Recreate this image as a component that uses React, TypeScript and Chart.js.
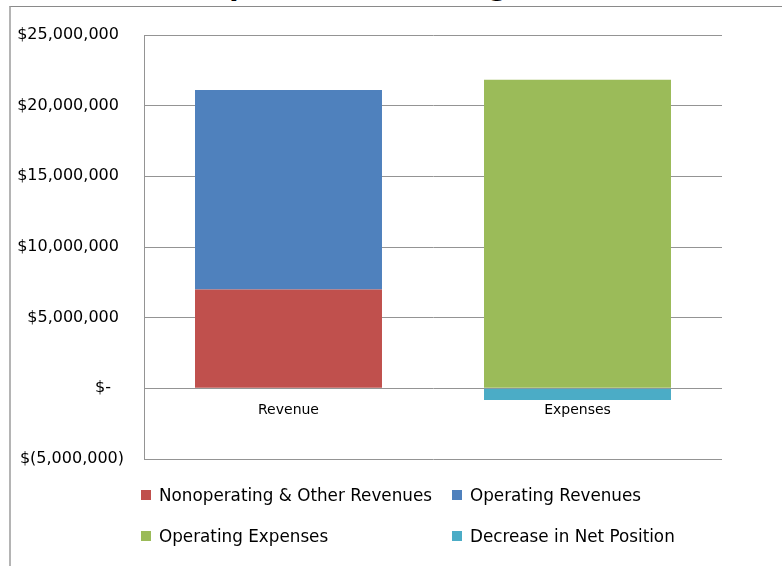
import React, { useEffect, useRef } from "react";
import { Chart, registerables } from "chart.js";

Chart.register(...registerables);

// ---- data ----
const categories = ["Revenue", "Expenses"];
const seriesNames = [
  "Nonoperating & Other Revenues",
  "Operating Revenues",
  "Operating Expenses",
  "Decrease in Net Position",
];
const nonoperatingRevenues = [7000000, null];
const operatingRevenues = [14100000, null];
const operatingExpenses = [null, 21840000];
const decreaseInNetPosition = [null, -830000];
const seriesColors = ["#C0504D", "#4F81BD", "#9BBB59", "#4BACC6"];
const yMin = -5000000;
const yMax = 25000000;
const yStep = 5000000;
const titleText = "Revenues, Expenses and Changes in Net Position";

const seriesData = [nonoperatingRevenues, operatingRevenues, operatingExpenses, decreaseInNetPosition];

function formatAccounting(v: number): string {
  if (v === 0) return "$-\u2002 ";
  const s = Math.abs(v).toLocaleString("en-US");
  return v < 0 ? `$(${s})` : `$${s} `;
}

const FONT = "'DejaVu Sans', sans-serif";

export default function App() {
  const canvasRef = useRef<HTMLCanvasElement | null>(null);

  useEffect(() => {
    const canvas = canvasRef.current;
    if (!canvas) return;
    const chart = new Chart(canvas, {
      type: "bar",
      data: {
        labels: categories,
        datasets: seriesNames.map((name, i) => ({
          label: name,
          data: seriesData[i] as any,
          backgroundColor: seriesColors[i],
          borderWidth: 0,
          barPercentage: 0.647,
          categoryPercentage: 1,
          stack: "s",
        })),
      },
      options: {
        animation: false,
        responsive: false,
        maintainAspectRatio: false,
        layout: { padding: { left: 0, right: 60, top: 35, bottom: 107 } },
        plugins: {
          legend: { display: false },
          tooltip: { enabled: false },
          title: { display: false },
        },
        scales: {
          x: {
            stacked: true,
            position: { y: 0 } as any,
            grid: { display: false, drawTicks: false },
            border: { display: false },
            ticks: { font: { family: FONT, size: 14 }, color: "#000", padding: 14 },
            afterFit: (s: any) => {
              s.height = 0;
            },
          },
          y: {
            stacked: true,
            min: yMin,
            max: yMax,
            ticks: {
              stepSize: yStep,
              callback: (v: any) => formatAccounting(Number(v)),
              font: { family: FONT, size: 16 },
              color: "#000",
              padding: 20,
            },
            grid: { color: "#949494", drawTicks: false, lineWidth: 1 },
            border: { color: "#949494", width: 1 },
            afterFit: (s: any) => {
              s.width = 144;
            },
          },
        },
      },
    });
    return () => chart.destroy();
  }, []);

  const legendPos = [
    { left: 141, cy: 495 },
    { left: 452, cy: 495 },
    { left: 141, cy: 536 },
    { left: 452, cy: 536 },
  ];

  return (
    <div
      style={{
        position: "absolute",
        left: 0,
        top: 0,
        width: 782,
        height: 566,
        overflow: "hidden",
        background: "#fff",
      }}
    >
      <div
        style={{
          position: "absolute",
          left: 26,
          top: -31,
          whiteSpace: "nowrap",
          font: `bold 27px ${FONT}`,
          lineHeight: "34px",
          color: "#000",
        }}
      >
        {titleText}
      </div>
      <div
        style={{
          position: "absolute",
          left: 9,
          top: 6,
          width: 900,
          height: 700,
          borderTop: "1px solid #8a8a8a",
          borderLeft: "2px solid #b4b4b4",
        }}
      />
      <canvas
        ref={canvasRef}
        width={782}
        height={566}
        style={{ position: "absolute", left: 0, top: 0, width: 782, height: 566 }}
      />
      {seriesNames.map((name, i) => (
        <div
          key={name}
          style={{
            position: "absolute",
            left: legendPos[i].left,
            top: legendPos[i].cy - 10,
            height: 20,
            display: "flex",
            alignItems: "center",
            whiteSpace: "nowrap",
            font: `16.8px ${FONT}`,
            color: "#000",
          }}
        >
          <span
            style={{
              display: "inline-block",
              width: 10,
              height: 10,
              background: seriesColors[i],
              marginRight: 8,
            }}
          />
          <span>{name}</span>
        </div>
      ))}
    </div>
  );
}
